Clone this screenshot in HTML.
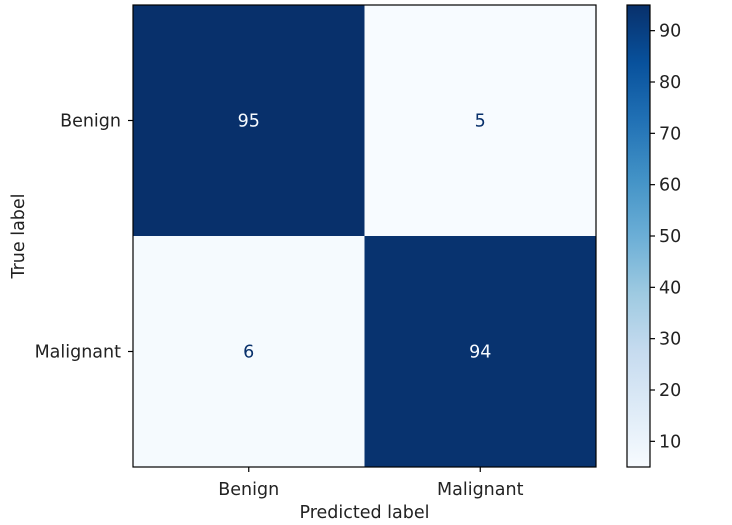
<!DOCTYPE html>
<html><head><meta charset="utf-8"><style>
html,body{margin:0;padding:0;background:#fff;}
svg{display:block;font-family:"DejaVu Sans","Liberation Sans",sans-serif;}
</style></head><body>
<svg id="chart" width="732" height="525" viewBox="0 0 732 525">
<defs><linearGradient id="cbgrad" x1="0" y1="1" x2="0" y2="0"></linearGradient></defs>
<g id="cells"></g>
<g id="axes"></g>
<g id="cbar"></g>
</svg>
<script>
const trueLabels = ["Benign", "Malignant"];
const predLabels = ["Benign", "Malignant"];
const values = [[95, 5], [6, 94]];
const cbarTicks = [10, 20, 30, 40, 50, 60, 70, 80, 90];
const vmin = 5, vmax = 95;

const NS = "http://www.w3.org/2000/svg";
const L = 133, R = 596, T = 5, B = 467;
const CL = 627, CR = 650;
const FS = "17.5";
const blues = ["#f7fbff","#deebf7","#c6dbef","#9ecae1","#6baed6","#4292c6","#2171b5","#08519c","#08306b"];
function hex(c){return [1,3,5].map(i=>parseInt(c.substr(i,2),16));}
function color(v){
  let t = Math.max(0, Math.min(1, (v - vmin) / (vmax - vmin))) * (blues.length - 1);
  let i = Math.min(Math.floor(t), blues.length - 2), f = t - i;
  let a = hex(blues[i]), b = hex(blues[i+1]);
  return "rgb(" + a.map((x,k)=>Math.round(x + (b[k]-x)*f)).join(",") + ")";
}
const nc = predLabels.length, nr = trueLabels.length;
const cw = (R - L) / nc, ch = (B - T) / nr;
const xc = j => L + cw * (j + 0.5);
const yc = i => T + ch * (i + 0.5);
const yCb = v => B - (v - vmin) / (vmax - vmin) * (B - T);
function mk(tag, attrs, parent){const e=document.createElementNS(NS,tag);for(const k in attrs)e.setAttribute(k,attrs[k]);parent.appendChild(e);return e;}

const cells = document.getElementById("cells");
values.forEach((row,i)=>row.forEach((v,j)=>{
  const r = mk("rect",{x:L+cw*j,y:T+ch*i,width:cw+0.5,height:ch+0.5,fill:color(v)},cells);
  
  
  const t = mk("text",{x:xc(j),y:yc(i)+6,"text-anchor":"middle","font-size":FS,fill:(v-vmin)/(vmax-vmin)>0.5?"#f7fbff":"#08306b"},cells);
  t.textContent = v;
  
  
}));

const axes = document.getElementById("axes");
mk("rect",{x:L,y:T,width:R-L,height:B-T,fill:"none",stroke:"#000","stroke-width":"1.2"},axes);
trueLabels.forEach((lab,i)=>{
  mk("line",{x1:L-5,x2:L,y1:yc(i),y2:yc(i),stroke:"#000","stroke-width":"1.2"},axes);
  const t = mk("text",{x:L-12,y:yc(i)+6,"text-anchor":"end","font-size":FS,fill:"#222"},axes);
  t.textContent = lab;
  
  
});
predLabels.forEach((lab,j)=>{
  mk("line",{x1:xc(j),x2:xc(j),y1:B,y2:B+5,stroke:"#000","stroke-width":"1.2"},axes);
  const t = mk("text",{x:xc(j),y:B+28,"text-anchor":"middle","font-size":FS,fill:"#222"},axes);
  t.textContent = lab;
  
  
});
let xt = mk("text",{x:(L+R)/2,y:518,"text-anchor":"middle","font-size":FS,fill:"#222"},axes);
xt.textContent = "Predicted label";


let yt = mk("text",{x:0,y:0,transform:"translate(24,"+((T+B)/2)+") rotate(-90)","text-anchor":"middle","font-size":FS,fill:"#222"},axes);
yt.textContent = "True label";



const grad = document.getElementById("cbgrad");
blues.forEach((c,k)=>mk("stop",{offset:(k/(blues.length-1)*100)+"%","stop-color":c},grad));
const cb = document.getElementById("cbar");
mk("rect",{x:CL,y:T,width:CR-CL,height:B-T,fill:"url(#cbgrad)",stroke:"#000","stroke-width":"1.2"},cb);
cbarTicks.forEach(v=>{
  mk("line",{x1:CR,x2:CR+5,y1:yCb(v),y2:yCb(v),stroke:"#000","stroke-width":"1.2"},cb);
  const t = mk("text",{x:CR+9,y:yCb(v)+6,"font-size":FS,fill:"#222"},cb);
  t.textContent = v;
  
  
});
</script>
</body></html>
